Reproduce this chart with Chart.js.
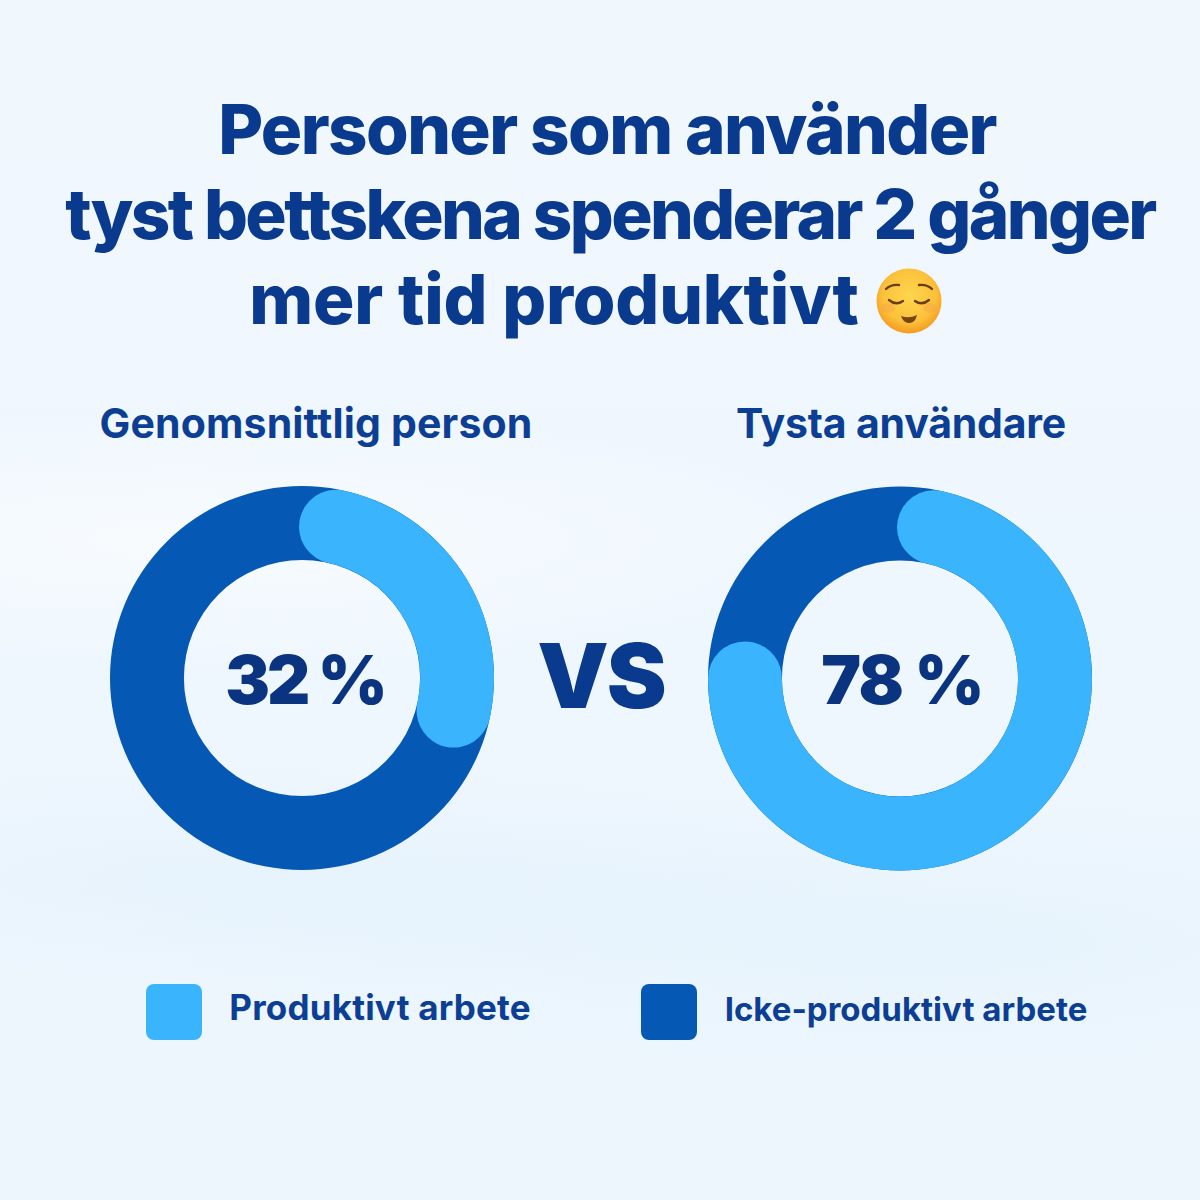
<!DOCTYPE html>
<html lang="sv">
<head>
<meta charset="utf-8">
<title>Tyst bettskena</title>
<script src="https://cdn.jsdelivr.net/npm/chart.js@4"></script>
<style>
html, body { margin: 0; padding: 0; }
body {
    width: 1200px; height: 1200px; position: relative; overflow: hidden;
    font-family: Inter, "Open Sans", sans-serif;
    background:
        radial-gradient(ellipse 700px 130px at 180px 540px, rgba(255,255,255,0.5), rgba(255,255,255,0)),
        radial-gradient(ellipse 700px 120px at 250px 880px, rgba(225,240,252,0.55), rgba(225,240,252,0)),
        radial-gradient(ellipse 800px 150px at 900px 940px, rgba(226,241,252,0.6), rgba(226,241,252,0)),
        linear-gradient(180deg, #f0f7fd 0%, #eff7fe 50%, #edf6fd 100%);
}
.txt { position: absolute; white-space: nowrap; line-height: 1; transform: translateX(-50%); }
.title { font-size: 69px; font-weight: 800; color: #0a3a8e; letter-spacing: -1.6px; }
.sub { font-size: 41px; font-weight: 700; color: #0c3f94; }
.center { font-size: 67px; font-weight: 900; color: #0a3480; letter-spacing: -3px; }
.vs { font-size: 90px; font-weight: 900; color: #0a3a8e; letter-spacing: -2px; }
.leg { font-weight: 700; color: #0c3f94; }
.swatch { position: absolute; width: 56px; height: 56px; border-radius: 8px; }
canvas { position: absolute; }
#emoji { position: absolute; left: 875px; top: 267px; }
</style>
</head>
<body>

<div class="txt title" style="left:607px;top:95px">Personer som använder</div>
<div class="txt title" style="left:610px;top:180px;letter-spacing:-2.6px">tyst bettskena spenderar 2 gånger</div>
<div class="txt title" style="left:554px;top:265px;letter-spacing:-0.2px">mer tid produktivt</div>
<svg id="emoji" width="68" height="68" viewBox="0 0 68 68" role="img" aria-label="😌">
    <defs>
        <radialGradient id="faceGrad" cx="50%" cy="42%" r="58%">
            <stop offset="0%" stop-color="#fdd64e"/>
            <stop offset="70%" stop-color="#fcc13a"/>
            <stop offset="100%" stop-color="#f59a1f"/>
        </radialGradient>
    </defs>
    <circle cx="34" cy="34" r="32.5" fill="url(#faceGrad)"/>
    <ellipse cx="13" cy="41" rx="7" ry="5" fill="#f59a50" opacity="0.35"/>
    <ellipse cx="55" cy="41" rx="7" ry="5" fill="#f59a50" opacity="0.35"/>
    <g fill="none" stroke="#6b3d10" stroke-width="2.4" stroke-linecap="round">
        <path d="M11 22 Q16 17 24 18"/>
        <path d="M44 18 Q52 17 57 22"/>
        <path d="M14 33 Q21 39 28 34"/>
        <path d="M40 34 Q47 39 54 33"/>
    </g>
    <path d="M26 49 Q34 52 42 48 Q40 57 33 56 Q28 55 26 49 Z" fill="#7a4412"/>
</svg>

<div class="txt sub" style="left:316px;top:403px;letter-spacing:0.15px">Genomsnittlig person</div>
<div class="txt sub" style="left:901px;top:403px;letter-spacing:-0.2px">Tysta användare</div>

<canvas id="chartAverage" width="384" height="384" style="left:110px;top:486px"></canvas>
<canvas id="chartSilent" width="384" height="385" style="left:708px;top:486px"></canvas>

<div class="txt center" style="left:305px;top:646px">32 %</div>
<div class="txt center" style="left:902px;top:646px;letter-spacing:-1.5px">78 %</div>
<div class="txt vs" style="left:601px;top:631px">VS</div>

<div class="swatch" style="left:146px;top:984px;background:#3bb4fe"></div>
<div class="txt leg" style="left:380px;top:990px;font-size:35px;letter-spacing:0.2px">Produktivt arbete</div>
<div class="swatch" style="left:641px;top:984px;background:#0558b4"></div>
<div class="txt leg" style="left:906px;top:993px;font-size:33px">Icke-produktivt arbete</div>

<script>
var labels = ['Produktivt arbete', 'Icke-produktivt arbete'];
var averageValues = [32, 68];
var silentValues = [78, 22];
var colorLight = '#3bb4fe';
var colorDark = '#0558b4';

// full dark ring under the slices so the rounded ends sit on top of it
var ringPlugin = {
    id: 'ring',
    beforeDatasetsDraw: function(chart) {
        var arc = chart.getDatasetMeta(0).data[0];
        var c = chart.ctx;
        c.save();
        c.beginPath();
        c.arc(arc.x, arc.y, arc.outerRadius, 0, Math.PI * 2);
        c.arc(arc.x, arc.y, arc.innerRadius, Math.PI * 2, 0, true);
        c.closePath();
        c.fillStyle = colorDark;
        c.fill();
        c.restore();
    }
};

function makeDonut(id, values) {
    return new Chart(document.getElementById(id), {
        type: 'doughnut',
        data: {
            labels: labels,
            datasets: [{
                data: values,
                // second slice is the ring itself, drawn by the plugin
                backgroundColor: [colorLight, 'transparent'],
                borderWidth: 0,
                borderRadius: [37, 0]
            }]
        },
        options: {
            responsive: false,
            animation: false,
            cutout: '61.5%',
            rotation: -1,
            circumference: 365,
            plugins: {
                legend: { display: false },
                tooltip: { enabled: false }
            }
        },
        plugins: [ringPlugin]
    });
}

makeDonut('chartAverage', averageValues);
makeDonut('chartSilent', silentValues);
</script>
</body>
</html>
